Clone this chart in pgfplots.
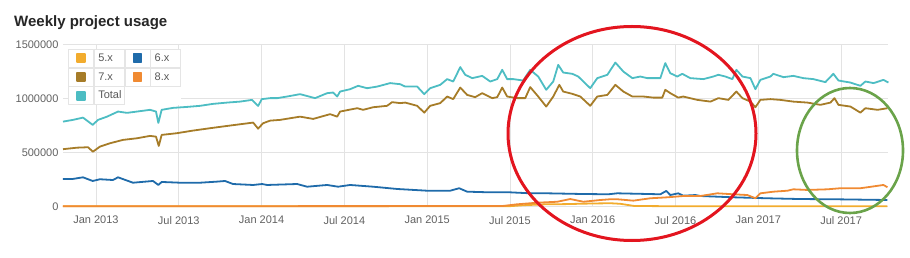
\documentclass[border=0pt]{standalone}
\usepackage{fontspec}
\setmainfont{Liberation Sans}
\usepackage{pgfplots}
\pgfplotsset{compat=1.18}
\definecolor{c5}{HTML}{F2AC2E}
\definecolor{c6}{HTML}{1F6BAA}
\definecolor{c7}{HTML}{A67C28}
\definecolor{c8}{HTML}{F08A32}
\definecolor{ctot}{HTML}{4DBDC3}
\definecolor{cred}{HTML}{E3151F}
\definecolor{cgreen}{HTML}{6AA34A}
\definecolor{gridc}{HTML}{E3E3E3}
\begin{document}
\begin{tikzpicture}
\path[use as bounding box] (0,0) rectangle (910pt,257pt);
\node[anchor=base west, inner sep=0pt, font=\fontsize{15}{18}\selectfont\bfseries, text=black!85] at (14pt,230.3pt) {Weekly project usage};
\begin{axis}[
  at={(63pt,50.5pt)}, anchor=south west,
  scale only axis, width=825pt, height=162.2pt,
  xmin=-2.39, xmax=57.4, ymin=0, ymax=1500000,
  clip=false,
  scaled y ticks=false, scaled x ticks=false,
  xtick={0,6,12,18,24,30,36,42,48,54},
  xticklabels={Jan 2013,Jul 2013,Jan 2014,Jul 2014,Jan 2015,Jul 2015,Jan 2016,Jul 2016,Jan 2017,Jul 2017},
  ytick={0,500000,1000000,1500000},
  yticklabels={0,500000,1000000,1500000},
  /pgf/number format/assume math mode=true,
  grid=major, grid style={draw=gridc, line width=0.8pt},
  axis line style={draw=none}, tick style={draw=none},
  ticklabel style={font=\fontsize{11}{13}\selectfont, text=black!62},
  xticklabel style={yshift=-6pt},
  yticklabel style={xshift=-1pt},
  legend columns=2,
  legend style={at={(axis description cs:0,1)}, anchor=north west, xshift=5pt, yshift=-4.5pt,
    draw=none, fill=white, inner sep=0pt, column sep=0pt, row sep=0pt,
    nodes={draw=black!10, line width=0.7pt, text width=22pt, inner xsep=4pt, inner ysep=0pt,
      minimum height=18pt, outer sep=0pt, anchor=center, font=\fontsize{11}{13}\selectfont, text=black!65}},
  legend image code/.code={\draw[black!10, line width=0.7pt, fill=white] (0pt,-9pt) rectangle (25pt,9pt); \fill[#1] (8.5pt,-4pt) rectangle (16.5pt,4pt);},
  every axis plot/.append style={line width=1.8pt, line join=round, mark=none},
]
% 5.x
\addplot[c5] coordinates {
(-2.39,2000) (10,2500) (20,3000) (30,3000) (31,12000) (32.5,20000) (34,22000) (36,28000) (37.3,30000) (38,25000) (39,5000) (41,3000) (50,2500) (57.36,2500)
};
\addlegendentry{5.x}
% 6.x
\addplot[c6] coordinates {
(-2.39,255000) (-1.67,255000) (-0.94,270000) (-0.24,236000) (0.29,252000) (1.23,245000) (1.60,270000) (2.68,220000) (4.13,236000) (4.52,199000) (4.76,227000) (6.09,220000) (7.54,220000) (8.77,230000) (9.35,236000) (9.93,208000) (11.39,199000) (12.04,208000) (12.40,199000) (14.58,208000) (15.30,183000) (16.75,199000) (17.55,183000) (18.42,199000) (20.09,183000) (21.83,162000) (24.00,146000) (25.67,146000) (26.32,169000) (26.90,137000) (28.57,131000) (30.02,131000) (31.47,122000) (32.71,122000) (35.10,116000) (37.13,113000) (37.78,122000) (40.90,113000) (41.33,144000) (41.62,106000) (42.20,122000) (42.56,100000) (43.44,106000) (43.80,97000) (46.19,85000) (48.66,76000) (51.05,69000) (53.44,67000) (57.36,60000)
};
\addlegendentry{6.x}
% 7.x
\addplot[c7] coordinates {
(-2.39,530000) (-1.38,544000) (-0.58,548000) (-0.22,507000) (0.29,554000) (1.02,585000) (1.96,616000) (2.97,631000) (3.92,653000) (4.35,646000) (4.55,560000) (4.76,662000) (5.87,678000) (7.03,702000) (8.27,724000) (9.50,745000) (10.66,764000) (11.39,776000) (11.75,720000) (12.11,770000) (12.62,794000) (13.34,801000) (14.79,831000) (15.74,810000) (16.97,854000) (17.48,831000) (17.69,878000) (18.93,909000) (19.36,894000) (20.09,918000) (21.10,931000) (21.46,965000) (22.05,956000) (22.41,961000) (23.28,931000) (23.79,868000) (24.22,931000) (24.95,956000) (25.45,1017000) (25.89,993000) (26.40,1100000) (26.90,1032000) (27.48,1011000) (27.99,1048000) (28.72,1002000) (29.08,1011000) (29.44,1100000) (29.80,1017000) (30.53,1002000) (31.11,1002000) (31.47,1104000) (32.05,1017000) (32.63,924000) (33.14,1017000) (33.58,1125000) (33.86,1063000) (34.52,1042000) (35.10,1017000) (35.82,931000) (36.33,1017000) (37.06,1032000) (37.64,1125000) (38.22,1063000) (38.87,1017000) (39.67,1017000) (40.39,1007000) (41.04,1007000) (41.26,1079000) (41.62,1048000) (42.20,1007000) (42.56,1017000) (43.58,986000) (44.53,970000) (45.11,1002000) (45.83,986000) (46.41,1063000) (46.85,1002000) (47.43,970000) (47.79,918000) (48.15,986000) (48.88,993000) (49.60,986000) (50.54,970000) (51.56,961000) (52.50,940000) (53.23,961000) (53.52,1002000) (53.81,940000) (54.68,924000) (55.40,868000) (55.76,909000) (56.64,894000) (57.36,909000)
};
\addlegendentry{7.x}
% 8.x
\addplot[c8] coordinates {
(-2.39,3000) (10,3000) (20,3500) (29.5,5000) (30.5,20000) (31.98,35000) (33.43,44000) (34.37,69000) (35.32,44000) (36.55,60000) (37.27,67000) (37.78,67000) (38.94,54000) (40.17,76000) (41.41,85000) (42.56,97000) (43.80,97000) (45.03,122000) (46.19,113000) (47.21,106000) (47.79,76000) (48.15,122000) (49.09,137000) (50.11,146000) (50.54,159000) (51.56,153000) (53.01,159000) (53.95,169000) (55.40,169000) (55.91,178000) (57.07,199000) (57.36,178000)
};
\addlegendentry{8.x}
% Total
\addplot[ctot] coordinates {
(-2.39,785000) (-1.67,801000) (-0.94,822000) (-0.24,755000) (0.15,801000) (0.80,831000) (1.60,878000) (2.25,866000) (2.97,878000) (3.92,894000) (4.35,878000) (4.52,773000) (4.76,894000) (5.58,912000) (6.60,921000) (7.54,931000) (8.48,949000) (9.50,961000) (10.44,970000) (11.31,986000) (11.75,930000) (12.02,993000) (12.62,1002000) (13.13,1002000) (13.85,1017000) (14.79,1039000) (15.88,1002000) (16.75,1048000) (17.19,1054000) (17.48,1017000) (17.69,1063000) (18.42,1085000) (19.00,1116000) (19.65,1094000) (20.38,1109000) (21.32,1141000) (22.05,1131000) (22.41,1109000) (23.28,1109000) (23.79,1039000) (24.22,1094000) (24.95,1125000) (25.45,1178000) (25.89,1156000) (26.40,1289000) (26.76,1218000) (27.27,1187000) (27.99,1208000) (28.57,1156000) (29.08,1178000) (29.44,1264000) (29.80,1178000) (30.24,1178000) (30.96,1165000) (31.47,1264000) (32.05,1202000) (32.63,1079000) (33.14,1156000) (33.50,1310000) (33.86,1239000) (34.52,1227000) (34.95,1202000) (35.82,1094000) (36.33,1187000) (37.06,1218000) (37.64,1331000) (38.22,1248000) (38.87,1187000) (39.45,1202000) (39.96,1187000) (40.90,1187000) (41.26,1326000) (41.62,1233000) (42.13,1202000) (42.49,1227000) (43.07,1187000) (44.02,1178000) (44.74,1202000) (45.11,1218000) (45.61,1202000) (46.12,1178000) (46.41,1264000) (46.85,1202000) (47.43,1187000) (47.79,1085000) (48.15,1171000) (48.88,1202000) (49.09,1227000) (49.82,1196000) (50.54,1208000) (51.27,1187000) (51.99,1178000) (52.86,1150000) (53.44,1227000) (53.81,1165000) (54.68,1146000) (55.40,1116000) (55.76,1156000) (56.35,1141000) (57.07,1171000) (57.43,1146000)
};
\addlegendentry{Total}
\end{axis}
\draw[cred, line width=3pt] (632pt,123.5pt) ellipse [x radius=124pt, y radius=107pt];
\draw[cgreen, line width=2.6pt] (850pt,106.5pt) ellipse [x radius=53pt, y radius=62.5pt];
\end{tikzpicture}
\end{document}
